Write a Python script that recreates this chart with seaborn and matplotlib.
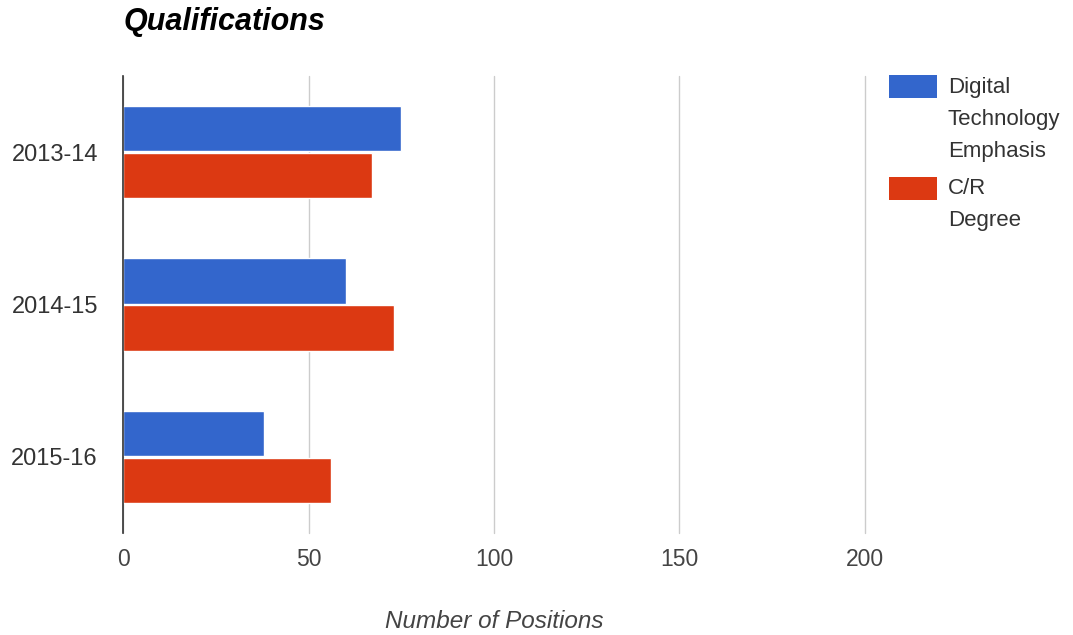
import matplotlib
matplotlib.use("Agg")
import matplotlib.pyplot as plt
from matplotlib.patches import Rectangle
import seaborn as sns
import pandas as pd

# Data
seasons = ["2013-14", "2014-15", "2015-16"]
digital_tech = [75, 60, 38]
cr_degree = [67, 73, 56]
series_names = ["Digital\nTechnology\nEmphasis", "C/R\nDegree"]
series_colors = ["#3366CC", "#DC3912"]
x_ticks = [0, 50, 100, 150, 200]

df = pd.DataFrame({
    "season": seasons * 2,
    "value": digital_tech + cr_degree,
    "series": [series_names[0]] * len(seasons) + [series_names[1]] * len(seasons),
})

sns.set_theme(style="white")
plt.rcParams["font.family"] = ["Liberation Sans", "DejaVu Sans"]

W, H = 1073, 635
fig = plt.figure(figsize=(W / 100, H / 100), dpi=100)
ax = fig.add_axes([123 / W, 1 - 533 / H, (865 - 123) / W, (533 - 76) / H])

palette = dict(zip(series_names, series_colors))
sns.barplot(data=df, y="season", x="value", hue="series", order=seasons,
            hue_order=series_names, palette=palette, orient="h",
            width=0.62, gap=0.04, saturation=1, legend=False, ax=ax, zorder=3)

ax.set_xlim(0, 200)
ax.set_xticks(x_ticks)
ax.set_xticklabels([str(t) for t in x_ticks])
ax.grid(axis="x", color="#cccccc", linewidth=1, zorder=0)
for gl in ax.get_xgridlines():
    gl.set_clip_on(False)
ax.set_axisbelow(True)
for s in ["top", "right", "bottom"]:
    ax.spines[s].set_visible(False)
ax.spines["left"].set_color("#333333")
ax.spines["left"].set_linewidth(1.2)
ax.spines["left"].set_zorder(5)

ax.tick_params(axis="y", length=0, pad=18, labelsize=17, labelcolor="#333333")
ax.tick_params(axis="x", length=0, pad=11, labelsize=16.5, labelcolor="#444444")
ax.set_ylabel("")
ax.set_xlabel("Number of Positions", fontsize=17.5, style="italic",
              color="#444444", labelpad=28)

fig.text(124 / W, 1 - 22 / H, "Qualifications", fontsize=22,
         fontweight="bold", style="italic", color="#000000",
         ha="left", va="center")

# Legend: colour swatch plus wrapped label for each series
legend_rows = [(75, 77), (177, 178)]  # swatch top, label top (pixels from top)
for (sw_top, txt_top), name, color in zip(legend_rows, series_names, series_colors):
    fig.patches.append(Rectangle((889 / W, 1 - (sw_top + 23) / H), 48 / W, 23 / H,
                                 transform=fig.transFigure, facecolor=color,
                                 edgecolor="none"))
    fig.text(948 / W, 1 - txt_top / H, name, fontsize=16, color="#333333",
             ha="left", va="top", linespacing=1.68)

fig.savefig("out.png", dpi=100, facecolor="white")
